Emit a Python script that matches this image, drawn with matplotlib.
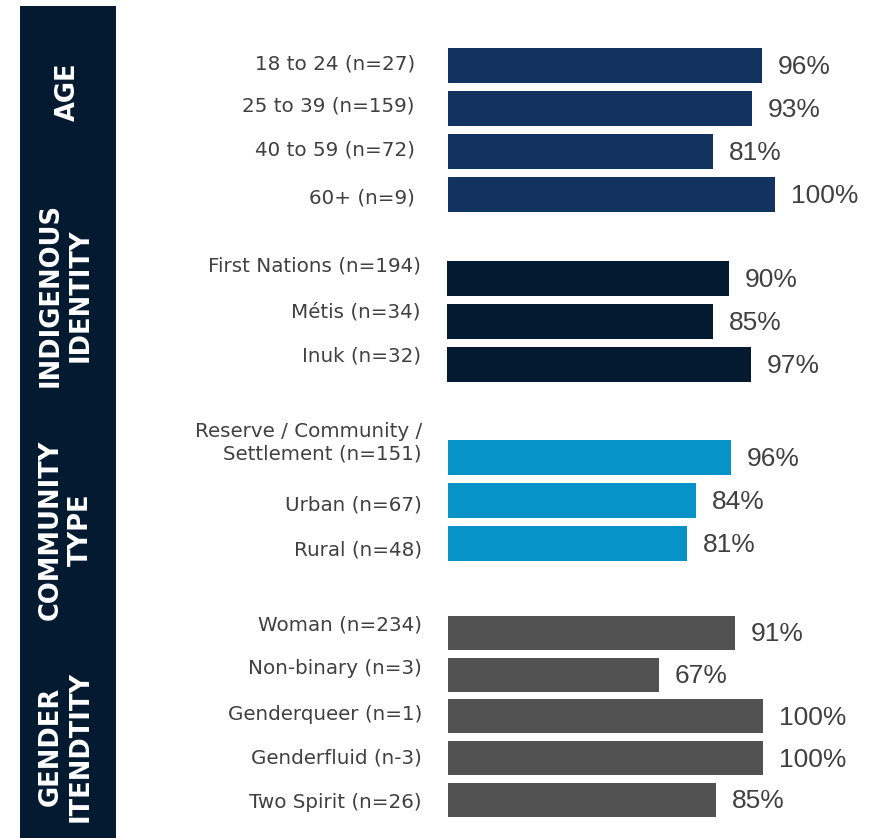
import matplotlib.pyplot as plt
from matplotlib.patches import Rectangle

# share of respondents per subgroup (%)
age_labels = ["18 to 24 (n=27)", "25 to 39 (n=159)", "40 to 59 (n=72)", "60+ (n=9)"]
age_values = [96, 93, 81, 100]

identity_labels = ["First Nations (n=194)", "Métis (n=34)", "Inuk (n=32)"]
identity_values = [90, 85, 97]

community_labels = ["Reserve / Community /\nSettlement (n=151)", "Urban (n=67)", "Rural (n=48)"]
community_values = [96, 84, 81]

gender_labels = ["Woman (n=234)", "Non-binary (n=3)", "Genderqueer (n=1)",
                 "Genderfluid (n-3)", "Two Spirit (n=26)"]
gender_values = [91, 67, 100, 100, 85]

group_titles = ["AGE", "INDIGENOUS\nIDENTITY", "COMMUNITY\nTYPE", "GENDER\nITENDTITY"]

W, H = 879, 838
PX = 72 / 100  # points per pixel at dpi 100
TEXT = "#404040"
BAND = "#031a31"

# one block per group: pixel box of the bars, colour, label gap and nudges
groups = [
    dict(labels=age_labels, values=age_values, left=448, top=44, pitch=43,
         full=327, color="#12335f", gap=33, dy=[2, 2, 1, -4], title_y=92, title_x=68),
    dict(labels=identity_labels, values=identity_values, left=447, top=257, pitch=43,
         full=313, color=BAND, gap=26, dy=[12, 10, 8], title_y=295, title_x=66),
    dict(labels=community_labels, values=community_values, left=448, top=436, pitch=43,
         full=295, color="#0792c8", gap=26, dy=[15, -4.5, -7], title_y=530, title_x=66),
    dict(labels=gender_labels, values=gender_values, left=448, top=612, pitch=41.75,
         full=315, color="#525252", gap=26, dy=[8, 6, 2, 0, -3], title_y=746, title_x=66),
]

fig = plt.figure(figsize=(W / 100, H / 100), dpi=100)

# dark side band with the group names
fig.patches.append(Rectangle((20 / W, 0), 96 / W, (H - 6) / H,
                             transform=fig.transFigure, facecolor=BAND, edgecolor="none"))

for title, g in zip(group_titles, groups):
    fig.text(g["title_x"] / W, 1 - g["title_y"] / H, title, rotation=90,
             ha="center", va="center", multialignment="center", color="white",
             fontsize=18.5, fontweight="bold", family="DejaVu Sans", linespacing=1.2)

    n = len(g["values"])
    height = n * g["pitch"]
    ax = fig.add_axes([g["left"] / W, 1 - (g["top"] + height) / H,
                       g["full"] / W, height / H])
    ax.barh(range(n), g["values"], height=0.814, color=g["color"])
    ax.set_xlim(0, 100)
    ax.set_ylim(n - 0.5, -0.5)
    ax.axis("off")

    for i, (label, v) in enumerate(zip(g["labels"], g["values"])):
        ax.annotate(label, xy=(0, i), xytext=(-g["gap"] * PX, g["dy"][i] * PX),
                    textcoords="offset points", ha="right", va="center",
                    multialignment="right", fontsize=14.3, color=TEXT,
                    family="DejaVu Sans", annotation_clip=False)
        ax.annotate(f"{v}%", xy=(v, i), xytext=(16 * PX, -1.5 * PX),
                    textcoords="offset points", ha="left", va="center",
                    fontsize=19, color=TEXT, family="Liberation Sans",
                    annotation_clip=False)

fig.savefig("out.png", dpi=100)
plt.close(fig)
